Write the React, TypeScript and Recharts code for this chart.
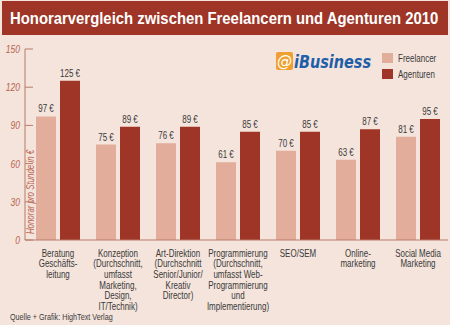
import React from 'react';
import { BarChart, Bar, XAxis, YAxis, LabelList } from 'recharts';

const categories = [
  'Beratung\nGeschäfts-\nleitung',
  'Konzeption\n(Durchschnitt,\numfasst\nMarketing,\nDesign,\nIT/Technik)',
  'Art-Direktion\n(Durchschnitt\nSenior/Junior/\nKreativ\nDirector)',
  'Programmierung\n(Durchschnitt,\numfasst Web-\nProgrammierung\nund\nImplementierung)',
  'SEO/SEM',
  'Online-\nmarketing',
  'Social Media\nMarketing',
];
const freelancer = [97, 75, 76, 61, 70, 63, 81];
const agenturen = [125, 89, 89, 85, 85, 87, 95];
const yTicks = [0, 30, 60, 90, 120, 150];
const seriesNames = ['Freelancer', 'Agenturen'];

const data = categories.map((name, i) => ({ name, freelancer: freelancer[i], agenturen: agenturen[i] }));

const BG = '#f4e4dc';
const LIGHT = '#e2ad9a';
const DARK = '#9e3526';
const AXIS = '#b97b6b';
const TICKTXT = '#b8634f';
const TXT = '#3a3a3a';
const FONT = "'Liberation Sans', Arial, sans-serif";
const SX = 0.8; // narrow the font to match the condensed original

const YTick = (props: any) => {
  const { x, y, payload } = props;
  return (
    <g>
      <line x1={x + 5} x2={x + 13} y1={y} y2={y} stroke={AXIS} strokeWidth={1} />
      <g transform={`translate(${x},${y}) scale(0.85,1)`}>
        <text x={0} y={0} dy={4} textAnchor="end" fontSize={10} fontStyle="italic" fill={TICKTXT} fontFamily={FONT}>
          {payload.value}
        </text>
      </g>
    </g>
  );
};

const XTick = (props: any) => {
  const { x, y, payload } = props;
  const lines = String(payload.value).split('\n');
  return (
    <g transform={`translate(${x},${y}) scale(${SX},1)`}>
      <text x={0} y={0} textAnchor="middle" fontSize={10} fill={TXT} fontFamily={FONT}>
        {lines.map((l, i) => (
          <tspan key={i} x={0} dy={i === 0 ? 8.5 : 10.7}>{l}</tspan>
        ))}
      </text>
    </g>
  );
};

const ValueLabel = (props: any) => {
  const { x, y, width, value } = props;
  return (
    <g transform={`translate(${x + width / 2},${y - 4}) scale(${SX},1)`}>
      <text x={0} y={0} textAnchor="middle" fontSize={10} fill={TXT} fontFamily={FONT}>
        {`${value} €`}
      </text>
    </g>
  );
};

const YLabel = () => (
  <g transform="translate(31,192) rotate(-90) scale(0.79,1)">
    <text x={0} y={0} dy={3} textAnchor="middle" fontSize={10} fontStyle="italic" fill={TICKTXT} fontFamily={FONT}>
      Honorar pro Stunde in €
    </text>
  </g>
);

export default function App() {
  return (
    <div style={{ position: 'absolute', left: 0, top: 0, width: 450, height: 325, background: BG, overflow: 'hidden' }}>
      <svg width={450} height={36} style={{ position: 'absolute', left: 0, top: 0 }}>
        <rect x={2} y={1} width={446} height={34} fill={DARK} />
        <g transform="translate(10,24) scale(0.93,1)">
          <text x={0} y={0} fontSize={16} fontWeight="bold" fill="#fff" fontFamily={FONT}>
            Honorarvergleich zwischen Freelancern und Agenturen 2010
          </text>
        </g>
      </svg>
      <svg width={110} height={24} style={{ position: 'absolute', left: 274, top: 50 }}>
        <rect x={2} y={2} width={17} height={18} rx={2} fill="#f0a030" />
        <text x={10.5} y={16} textAnchor="middle" fontSize={15} fontStyle="italic" fill="#fff" fontFamily="'DejaVu Sans', sans-serif">@</text>
        <g transform="translate(20,18) scale(0.85,1)">
          <text x={0} y={0} fontSize={17} fontWeight="bold" fontStyle="italic" fill="#1f5ea8" fontFamily="'DejaVu Sans', sans-serif">iBusiness</text>
        </g>
      </svg>
      <div style={{ position: 'absolute', left: 382, top: 50, fontFamily: FONT, fontSize: 10, color: TXT }}>
        {seriesNames.map((t, i) => (
          <div key={t} style={{ display: 'flex', alignItems: 'center', height: 16 }}>
            <span style={{ width: 11, height: 10, background: i === 0 ? LIGHT : DARK, display: 'inline-block', marginRight: 5 }} />
            <span style={{ display: 'inline-block', transform: `scaleX(${SX})`, transformOrigin: 'left center' }}>{t}</span>
          </div>
        ))}
      </div>
      <BarChart width={450} height={325} data={data} margin={{ top: 49, right: 2, left: 0, bottom: 0 }} barGap={4} barSize={20}>
        <XAxis dataKey="name" interval={0} height={85} padding={{ left: 3, right: 0 }} tickLine={false} axisLine={{ stroke: AXIS }} tick={<XTick />} />
        <YAxis width={25} domain={[0, 150]} ticks={yTicks} tickSize={0} tickMargin={5} tickLine={false} axisLine={{ stroke: AXIS }} tick={<YTick />} label={<YLabel />} />
        <Bar dataKey="freelancer" name={seriesNames[0]} fill={LIGHT} isAnimationActive={false}>
          <LabelList dataKey="freelancer" content={<ValueLabel />} />
        </Bar>
        <Bar dataKey="agenturen" name={seriesNames[1]} fill={DARK} isAnimationActive={false}>
          <LabelList dataKey="agenturen" content={<ValueLabel />} />
        </Bar>
      </BarChart>
      <div style={{ position: 'absolute', left: 10, top: 312, fontFamily: FONT, fontSize: 9, color: TXT, transform: `scaleX(${SX})`, transformOrigin: 'left top', whiteSpace: 'nowrap' }}>
        Quelle + Grafik: HighText Verlag
      </div>
    </div>
  );
}
